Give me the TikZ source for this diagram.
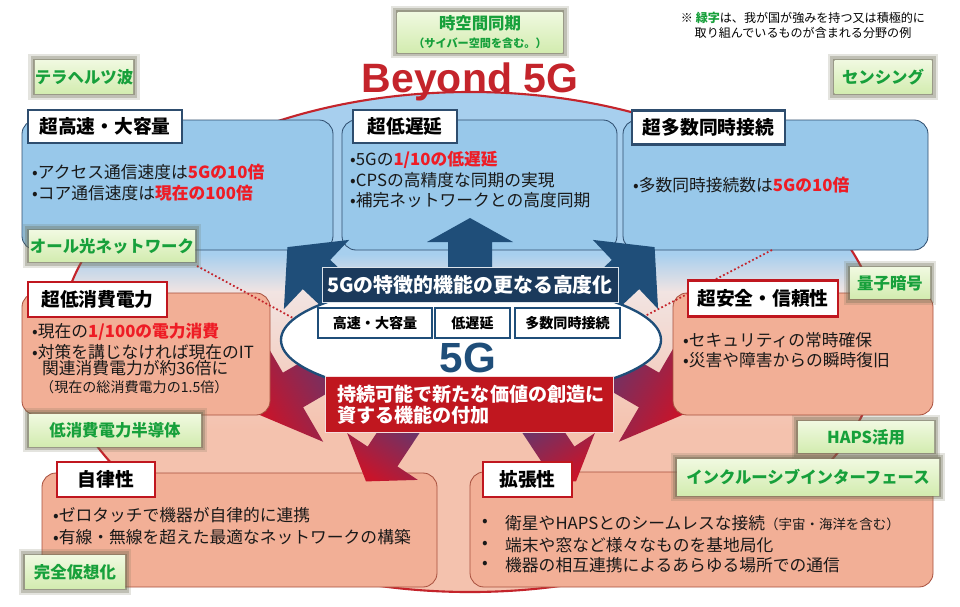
\documentclass[tikz,border=0pt]{standalone}
\usepackage{fontspec}
\setmainfont{Noto Sans CJK JP}
\newfontfamily\arialfont{Liberation Sans}
\usetikzlibrary{shapes.geometric}
\definecolor{bgblue}{HTML}{A7CFEE}
\definecolor{bgmid}{HTML}{F2E4E2}
\definecolor{bgpink}{HTML}{F4C2AE}
\definecolor{ellred}{HTML}{C4242B}
\definecolor{bfill}{HTML}{98C8EA}
\definecolor{bline}{HTML}{2E4D6E}
\definecolor{pfill}{HTML}{F2AF96}
\definecolor{pline}{HTML}{A8503E}
\definecolor{navy}{HTML}{1F4E79}
\definecolor{navylab}{HTML}{1B3A5C}
\definecolor{crim}{HTML}{C0171F}
\definecolor{ttred}{HTML}{C0171F}
\definecolor{emph}{HTML}{EE1C25}
\definecolor{gtext}{HTML}{17A03B}
\definecolor{gtop}{HTML}{F0F9E0}
\definecolor{gbot}{HTML}{D3ECB0}
\definecolor{glow}{HTML}{6B6B52}
\definecolor{apurple}{HTML}{4B3F7E}
\definecolor{ared}{HTML}{C8142A}
\newcommand\rt[1]{\textcolor{emph}{\bfseries #1}}
\newcommand\fsz[2]{\fontsize{#1pt}{#2pt}\selectfont}
\begin{document}
\begin{tikzpicture}[x=0.03cm,y=-0.03cm,
 bluebox/.style={draw=bline, line width=0.7pt, fill=bfill, rounded corners=12pt, inner sep=0pt},
 pinkbox/.style={draw=pline, line width=0.7pt, fill=pfill, rounded corners=12pt, inner sep=0pt},
 ttlblue/.style={draw=bline, line width=1.8pt, fill=white, font=\fsz{16}{18}\bfseries, inner sep=0pt},
 ttlred/.style={draw=ttred, line width=1.8pt, fill=white, font=\fsz{16}{18}\bfseries, inner sep=0pt},
 body/.style={anchor=west, inner sep=0pt, font=\fsz{14.3}{17}, text=black!90},
 gtag/.style={top color=gtop, bottom color=gbot, inner sep=0pt, font=\fsz{14}{16}\bfseries, text=gtext,
   preaction={draw=glow, line width=11pt, draw opacity=0.18},
   preaction={draw=glow, line width=7pt, draw opacity=0.3},
   preaction={draw=glow, line width=3pt, draw opacity=0.45}},
 sbox/.style={draw=navy, line width=1.6pt, fill=white, inner sep=0pt, font=\fsz{12}{14}\bfseries},
 blarrow/.style={fill=navy},
 dotl/.style={draw=ellred, line width=1.5pt, dash pattern=on 1.5pt off 2pt},
]
\useasboundingbox (0,0) rectangle (960,606);
\fill[white] (0,0) rectangle (960,606);

% big ellipse background
\begin{scope}
\clip (470,342) ellipse [x radius=12.3cm, y radius=7.5cm];
\fill[bgblue] (0,0) rectangle (960,255);
\shade[top color=bgblue, bottom color=bgmid] (0,254) rectangle (960,292);
\shade[top color=bgmid, bottom color=bgpink] (0,291) rectangle (960,430);
\fill[bgpink] (0,429) rectangle (960,606);
\end{scope}
\draw[ellred, line width=1.8pt] (470,342) ellipse [x radius=12.3cm, y radius=7.5cm];

% title
\node[inner sep=0pt, text=ellred, font=\arialfont\fsz{35}{36}\bfseries] (title) at (470,82) {Beyond 5G};

% note
\node[inner sep=0pt, align=center, font=\fsz{10.3}{13}] (note) at (803,25)
  {※ \textcolor{gtext}{\bfseries 緑字}は、我が国が強みを持つ又は積極的に\\取り組んでいるものが含まれる分野の例};

% side red arrows (behind the boxes)
\shade[top color=ared, bottom color=apurple, shading angle=120]
  (352,332.5) -- (282.9,372.7) -- (262.8,338.2) -- (254.1,412.6) -- (323.2,441.8) -- (303.1,407.3) -- (372.2,367.1) -- cycle;
\shade[top color=ared, bottom color=apurple, shading angle=240]
  (590,332.5) -- (659.1,372.7) -- (679.2,338.2) -- (687.9,412.6) -- (618.8,441.8) -- (638.9,407.3) -- (569.8,367.1) -- cycle;

% boxes
\node[bluebox, minimum width=311*0.03cm, minimum height=130*0.03cm] (bHigh) at (177.5,185) {};
\node[bluebox, minimum width=275*0.03cm, minimum height=130*0.03cm] (bLow) at (479.5,185) {};
\node[bluebox, minimum width=305*0.03cm, minimum height=130*0.03cm] (bMany) at (775.5,185) {};
\node[pinkbox, minimum width=248*0.03cm, minimum height=122*0.03cm] (bPow) at (146,354) {};
\node[pinkbox, minimum width=260*0.03cm, minimum height=122*0.03cm] (bSafe) at (803,354) {};
\node[pinkbox, minimum width=395*0.03cm, minimum height=114*0.03cm] (bAuto) at (239.5,530) {};
\node[pinkbox, minimum width=463*0.03cm, minimum height=115*0.03cm] (bExp) at (701.5,529.5) {};

% body texts
\node[body] (a1) at (32,172) {•アクセス通信速度は\rt{5Gの10倍}};
\node[body] (a2) at (32,193) {•コア通信速度は\rt{現在の100倍}};
\node[body] (b1) at (350,160) {•5Gの\rt{1/10の低遅延}};
\node[body] (b2) at (350,180) {•CPSの高精度な同期の実現};
\node[body] (b3) at (350,200) {•補完ネットワークとの高度同期};
\node[body] (c1) at (633,185) {•多数同時接続数は\rt{5Gの10倍}};
\node[body] (d1) at (32,332) {•現在の\rt{1/100の電力消費}};
\node[body] (d2) at (32,352) {•対策を講じなければ現在のIT};
\node[body] (d3) at (42,368) {関連消費電力が約36倍に};
\node[body, font=\fsz{12}{14}] (d4) at (40,387) {（現在の総消費電力の1.5倍）};
\node[body] (e1) at (683,340) {•セキュリティの常時確保};
\node[body] (e2) at (683,360) {•災害や障害からの瞬時復旧};
\node[body] (f1) at (53,515) {•ゼロタッチで機器が自律的に連携};
\node[body] (f2) at (53,537) {•有線・無線を超えた最適なネットワークの構築};
\node[body] (g1b) at (482,523) {•};
\node[body] (g2b) at (482,545) {•};
\node[body] (g3b) at (482,565) {•};
\node[body] (g1) at (505,523) {衛星やHAPSとのシームレスな接続{\fsz{11.5}{14}（宇宙・海洋を含む）}};
\node[body] (g2) at (505,545) {端末や窓など様々なものを基地局化};
\node[body] (g3) at (505,565) {機器の相互連携によるあらゆる場所での通信};

% dotted lines
\coordinate (dl1) at (197,266);
\coordinate (dl2) at (293,318);
\coordinate (dr1) at (772,250);
\coordinate (dr2) at (645,316);
\draw[dotl] (dl1) -- (dl2);
\draw[dotl] (dr1) -- (dr2);

% blue arrows
\fill[blarrow] (448,272) -- (448,242) -- (427,242) -- (470,218) -- (513,242) -- (492,242) -- (492,272) -- cycle;
\fill[blarrow] (381.2,307.9) -- (330.2,259.9) -- (349.1,239.9) -- (287.4,247.1) -- (283.9,309.1) -- (302.8,289.1) -- (353.8,337.1) -- cycle;
\fill[blarrow] (560.8,307.9) -- (611.8,259.9) -- (592.9,239.9) -- (654.6,247.1) -- (658.1,309.1) -- (639.2,289.1) -- (588.2,337.1) -- cycle;

% bottom red arrows
\shade[top color=ared, bottom color=apurple, shading angle=146.5]
  (400.6,396.8) -- (367.6,446.6) -- (347.2,433.1) -- (366,481.4) -- (417.8,479.9) -- (397.4,466.4) -- (430.4,416.6) -- cycle;
\shade[top color=ared, bottom color=apurple, shading angle=213.5]
  (541.4,396.8) -- (574.4,446.6) -- (594.8,433.1) -- (576,481.4) -- (524.2,479.9) -- (544.6,466.4) -- (511.6,416.6) -- cycle;

% titles
\node[ttlblue, minimum width=154*0.03cm, minimum height=33*0.03cm] (hHigh) at (105,126.5) {超高速・大容量};
\node[ttlblue, minimum width=104*0.03cm, minimum height=33*0.03cm] (hLow) at (405,126.5) {超低遅延};
\node[ttlblue, minimum width=153*0.03cm, minimum height=34*0.03cm] (hMany) at (708.5,127.5) {超多数同時接続};
\node[ttlred, minimum width=139*0.03cm, minimum height=35*0.03cm] (hPow) at (97.5,299.5) {超低消費電力};
\node[ttlred, minimum width=150*0.03cm, minimum height=36*0.03cm] (hSafe) at (763,298.5) {超安全・信頼性};
\node[ttlred, minimum width=98*0.03cm, minimum height=35*0.03cm] (hAuto) at (106,479.5) {自律性};
\node[ttlred, minimum width=89*0.03cm, minimum height=35*0.03cm] (hExp) at (527.5,479.5) {拡張性};

% 5G ellipse
\node[ellipse, draw=navy, line width=2pt, fill=white, minimum width=380*0.03cm, minimum height=116*0.03cm] (e5g) at (471,340) {};
\node[sbox, minimum width=114*0.03cm, minimum height=30*0.03cm] (sA) at (375,323) {高速・大容量};
\node[sbox, minimum width=75*0.03cm, minimum height=30*0.03cm] (sB) at (472.5,323) {低遅延};
\node[sbox, minimum width=105*0.03cm, minimum height=30*0.03cm] (sC) at (567.5,323) {多数同時接続};
\node[inner sep=0pt, text=navy, font=\arialfont\fsz{36}{38}\bfseries] (g5) at (468,358) {5G};
\node[fill=navylab, draw=white!85!navy, line width=0.6pt, minimum width=296*0.03cm, minimum height=35*0.03cm, inner sep=0pt, text=white, font=\fsz{17}{19}\bfseries] (lab1) at (470,284.5) {5Gの特徴的機能の更なる高度化};
\node[fill=crim, draw=white!85!crim, line width=0.6pt, minimum width=288*0.03cm, minimum height=56*0.03cm, inner sep=0pt] (lab2) at (469,404) {};
\node[anchor=west, inner sep=0pt, align=left, text=white, font=\fsz{16.3}{18}\bfseries] (lab2t) at (337,405) {持続可能で新たな価値の創造に\\資する機能の付加};

% green tags
\node[gtag, minimum width=165*0.03cm, minimum height=40*0.03cm, align=center] (tJiku) at (480,32)
  {時空間同期\\[-1pt]{\fsz{9.5}{11}（サイバー空間を含む。）}};
\node[gtag, minimum width=97*0.03cm, minimum height=33*0.03cm] (tTera) at (84,77) {テラヘルツ波};
\node[gtag, minimum width=97*0.03cm, minimum height=33*0.03cm] (tSens) at (883,77) {センシング};
\node[gtag, minimum width=166*0.03cm, minimum height=31*0.03cm] (tOpt) at (112,246) {オール光ネットワーク};
\node[gtag, minimum width=80*0.03cm, minimum height=31*0.03cm] (tQuant) at (890,283) {量子暗号};
\node[gtag, minimum width=172*0.03cm, minimum height=32*0.03cm] (tLowp) at (115,430) {低消費電力半導体};
\node[gtag, minimum width=100*0.03cm, minimum height=33*0.03cm] (tVirt) at (75,572) {完全仮想化};
\node[gtag, minimum width=136*0.03cm, minimum height=31*0.03cm] (tHaps) at (866,437) {HAPS活用};
\node[gtag, minimum width=262*0.03cm, minimum height=36*0.03cm] (tIncl) at (808,477) {インクルーシブインターフェース};
\end{tikzpicture}
\end{document}
